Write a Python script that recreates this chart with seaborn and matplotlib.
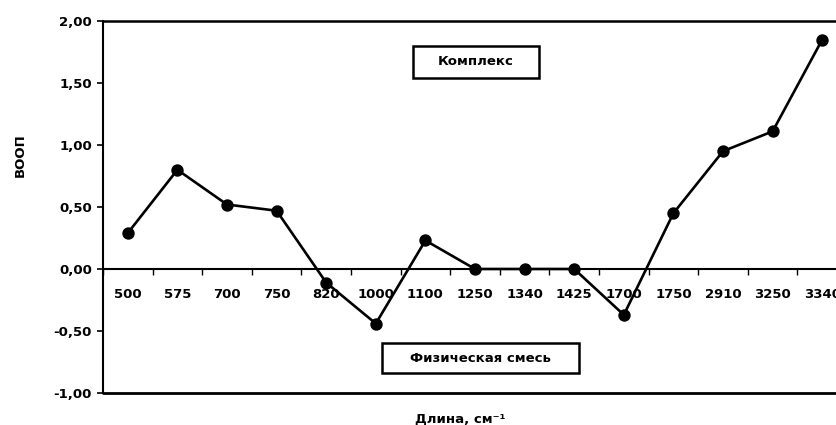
import matplotlib
matplotlib.use("Agg")
import matplotlib.pyplot as plt
import matplotlib.ticker as mticker
from matplotlib.patches import Rectangle
import seaborn as sns
import pandas as pd
import numpy as np

# данные
dlina = ["500", "575", "700", "750", "820", "1000", "1100", "1250",
         "1340", "1425", "1700", "1750", "2910", "3250", "3340"]
voop = [0.29, 0.80, 0.52, 0.47, -0.11, -0.44, 0.23, 0.0,
        0.0, 0.0, -0.37, 0.45, 0.95, 1.11, 1.85]

datos = pd.DataFrame({"Длина": dlina, "ВООП": voop})

sns.set_style("white")
plt.rcParams["font.family"] = ["DejaVu Sans"]
plt.rcParams["font.weight"] = "bold"
plt.rcParams["text.color"] = "black"
plt.rcParams["xtick.color"] = "black"
plt.rcParams["ytick.color"] = "black"
plt.rcParams["axes.edgecolor"] = "black"

fig = plt.figure(figsize=(8.36, 4.25), dpi=100)
ax = fig.add_axes([0.1232, 0.0753, 0.890, 0.8753])

sns.pointplot(data=datos, x="Длина", y="ВООП", order=dlina, color="black",
              markersize=7.5, linewidth=1.9, errorbar=None, ax=ax)

ax.set_ylim(-1, 2)
ax.set_xlim(-0.5, len(dlina) - 0.5)
ax.set_yticks([-1, -0.5, 0, 0.5, 1, 1.5, 2])
ax.yaxis.set_major_formatter(mticker.FuncFormatter(lambda v, p: f"{v:.2f}".replace(".", ",")))
ax.tick_params(axis="y", length=4, width=1.2, labelsize=9.5, pad=4, left=True)

# ось X проходит через ноль
ax.spines["bottom"].set_position(("data", 0))
ax.spines["bottom"].set_linewidth(1.5)
ax.spines["left"].set_linewidth(1.5)
ax.spines["top"].set_linewidth(1.8)
ax.spines["right"].set_visible(False)
ax.axhline(-1, color="black", lw=2.0, clip_on=False)

ax.set_xticks(np.arange(len(dlina)))
ax.set_xticklabels(dlina)
ax.set_xticks(np.arange(len(dlina) + 1) - 0.5, minor=True)
ax.tick_params(axis="x", which="major", length=0, labelsize=9.5, pad=14)
ax.tick_params(axis="x", which="minor", length=4, width=1.0, direction="out", bottom=True)
for lbl in ax.get_xticklabels() + ax.get_yticklabels():
    lbl.set_fontweight("bold")

ax.set_xlabel("")
ax.set_ylabel("")

# подписи в рамках
ax.add_patch(Rectangle((0.4167, 0.847), 0.169, 0.086, transform=ax.transAxes,
                       fill=False, ec="black", lw=1.8))
ax.text(0.501, 0.890, "Комплекс", transform=ax.transAxes, ha="center", va="center",
        fontsize=9.5, fontweight="bold")
ax.add_patch(Rectangle((0.375, 0.0538), 0.265, 0.0806, transform=ax.transAxes,
                       fill=False, ec="black", lw=1.8))
ax.text(0.507, 0.094, "Физическая смесь", transform=ax.transAxes, ha="center", va="center",
        fontsize=9.5, fontweight="bold")

fig.text(0.024, 0.635, "ВООП", rotation=90, ha="center", va="center",
         fontsize=9.5, fontweight="bold")
fig.text(0.55, 0.014, "Длина, см⁻¹", ha="center", va="center",
         fontsize=9.5, fontweight="bold")

fig.savefig("out.png", dpi=100)
